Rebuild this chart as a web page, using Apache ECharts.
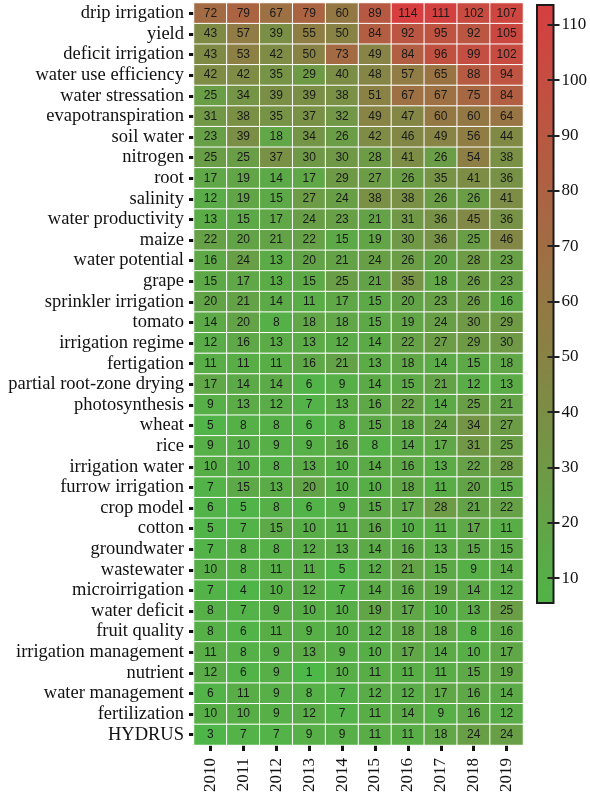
<!DOCTYPE html>
<html>
<head>
<meta charset="utf-8">
<script src="https://cdn.jsdelivr.net/npm/echarts@6/dist/echarts.min.js"></script>
<style>
  html, body { margin: 0; padding: 0; background: #ffffff; }
  #chart { width: 590px; height: 801px; }
</style>
</head>
<body>
<div id="chart"></div>
<script>
// Keyword occurrence counts per year (rows top to bottom)
const keywords = [
  'drip irrigation', 'yield', 'deficit irrigation', 'water use efficiency',
  'water stressation', 'evapotranspiration', 'soil water', 'nitrogen', 'root',
  'salinity', 'water productivity', 'maize', 'water potential', 'grape',
  'sprinkler irrigation', 'tomato', 'irrigation regime', 'fertigation',
  'partial root-zone drying', 'photosynthesis', 'wheat', 'rice',
  'irrigation water', 'furrow irrigation', 'crop model', 'cotton',
  'groundwater', 'wastewater', 'microirrigation', 'water deficit',
  'fruit quality', 'irrigation management', 'nutrient', 'water management',
  'fertilization', 'HYDRUS'
];

const years = ['2010', '2011', '2012', '2013', '2014', '2015', '2016', '2017', '2018', '2019'];

const y2010 = [72, 43, 43, 42, 25, 31, 23, 25, 17, 12, 13, 22, 16, 15, 20, 14, 12, 11, 17, 9, 5, 9, 10, 7, 6, 5, 7, 10, 7, 8, 8, 11, 12, 6, 10, 3];
const y2011 = [79, 57, 53, 42, 34, 38, 39, 25, 19, 19, 15, 20, 24, 17, 21, 20, 16, 11, 14, 13, 8, 10, 10, 15, 5, 7, 8, 8, 4, 7, 6, 8, 6, 11, 10, 7];
const y2012 = [67, 39, 42, 35, 39, 35, 18, 37, 14, 15, 17, 21, 13, 13, 14, 8, 13, 11, 14, 12, 8, 9, 8, 13, 8, 15, 8, 11, 10, 9, 11, 9, 9, 9, 9, 7];
const y2013 = [79, 55, 50, 29, 39, 37, 34, 30, 17, 27, 24, 22, 20, 15, 11, 18, 13, 16, 6, 7, 6, 9, 13, 20, 6, 10, 12, 11, 12, 10, 9, 13, 1, 8, 12, 9];
const y2014 = [60, 50, 73, 40, 38, 32, 26, 30, 29, 24, 23, 15, 21, 25, 17, 18, 12, 21, 9, 13, 8, 16, 10, 10, 9, 11, 13, 5, 7, 10, 10, 9, 10, 7, 7, 9];
const y2015 = [89, 84, 49, 48, 51, 49, 42, 28, 27, 38, 21, 19, 24, 21, 15, 15, 14, 13, 14, 16, 15, 8, 14, 10, 15, 16, 14, 12, 14, 19, 12, 10, 11, 12, 11, 11];
const y2016 = [114, 92, 84, 57, 67, 47, 46, 41, 26, 38, 31, 30, 26, 35, 20, 19, 22, 18, 15, 22, 18, 14, 16, 18, 17, 10, 16, 21, 16, 17, 18, 17, 11, 12, 14, 11];
const y2017 = [111, 95, 96, 65, 67, 60, 49, 26, 35, 26, 36, 36, 20, 18, 23, 24, 27, 14, 21, 14, 24, 17, 13, 11, 28, 11, 13, 15, 19, 10, 18, 14, 11, 17, 9, 18];
const y2018 = [102, 92, 99, 88, 75, 60, 56, 54, 41, 26, 45, 25, 28, 26, 26, 30, 29, 15, 12, 25, 34, 31, 22, 20, 21, 17, 15, 9, 14, 13, 8, 10, 15, 16, 16, 24];
const y2019 = [107, 105, 102, 94, 84, 64, 44, 38, 36, 41, 36, 46, 23, 23, 16, 29, 30, 18, 13, 21, 27, 25, 28, 15, 22, 11, 15, 14, 12, 25, 16, 17, 19, 14, 12, 24];

const yearColumns = [y2010, y2011, y2012, y2013, y2014, y2015, y2016, y2017, y2018, y2019];

// Colour scale range and the tick labels shown beside the colour bar
const scaleMin = 1;
const scaleMax = 114;
const barMin = 5.5;
const barMax = 113.6;
const barTicks = [10, 20, 30, 40, 50, 60, 70, 80, 90, 100, 110];

const lowColor = [76, 184, 72];
const highColor = [214, 62, 64];

function mix(v) {
  const t = Math.max(0, Math.min(1, (v - scaleMin) / (scaleMax - scaleMin)));
  const c = lowColor.map((lo, i) => Math.round(lo + (highColor[i] - lo) * t));
  return 'rgb(' + c.join(',') + ')';
}

const cells = [];
yearColumns.forEach((col, xi) => {
  col.forEach((v, yi) => cells.push([xi, yi, v]));
});

const serif = '"Liberation Serif", "Times New Roman", serif';
const sans = '"Liberation Sans", Arial, sans-serif';

const chart = echarts.init(document.getElementById('chart'), null, { renderer: 'canvas' });

chart.setOption({
  backgroundColor: '#ffffff',
  animation: false,
  grid: [
    { left: 194, top: 3, width: 329, height: 742, containLabel: false },
    {
      left: 537, top: 5, width: 17, height: 598, show: true,
      backgroundColor: {
        type: 'linear', x: 0, y: 0, x2: 0, y2: 1,
        colorStops: [
          { offset: 0, color: mix(barMax) },
          { offset: 1, color: mix(barMin) }
        ]
      },
      borderColor: '#1a1a1a', borderWidth: 2
    }
  ],
  xAxis: [
    {
      type: 'category', gridIndex: 0, data: years, position: 'bottom',
      axisLine: { show: false },
      axisTick: { show: true, alignWithLabel: true, length: 6, lineStyle: { color: '#111', width: 3 } },
      axisLabel: { interval: 0, rotate: 90, margin: 13, fontFamily: serif, fontSize: 17, color: '#111' },
      splitLine: { show: false }
    },
    {
      type: 'category', gridIndex: 1, data: [''],
      axisLine: { show: false }, axisTick: { show: false }, axisLabel: { show: false }
    }
  ],
  yAxis: [
    {
      type: 'category', gridIndex: 0, data: keywords, inverse: true,
      axisLine: { show: false },
      axisTick: { show: true, interval: 0, alignWithLabel: true, length: 5, lineStyle: { color: '#111', width: 3 } },
      axisLabel: { interval: 0, margin: 10, fontFamily: serif, fontSize: 18.5, color: '#111' },
      splitLine: { show: false }
    },
    {
      type: 'value', gridIndex: 1, position: 'right', min: barMin, max: barMax,
      axisLine: { show: false },
      axisTick: { show: true, inside: false, length: 6, customValues: barTicks, lineStyle: { color: '#222', width: 2 } },
      axisLabel: { margin: 8, fontFamily: serif, fontSize: 17, color: '#111', customValues: barTicks },
      splitLine: { show: false }
    },
    {
      type: 'value', gridIndex: 1, position: 'right', min: barMin, max: barMax,
      axisLine: { show: false },
      axisTick: { show: true, inside: true, length: 6, customValues: barTicks, lineStyle: { color: '#222', width: 2 } },
      axisLabel: { show: false },
      splitLine: { show: false }
    }
  ],
  visualMap: {
    type: 'continuous', show: false, seriesIndex: 0, dimension: 2,
    min: scaleMin, max: scaleMax,
    inRange: { color: [mix(scaleMin), mix(scaleMax)] }
  },
  series: [
    {
      type: 'heatmap', xAxisIndex: 0, yAxisIndex: 0, data: cells,
      label: { show: true, fontFamily: sans, fontSize: 12, color: '#1a1a1a' },
      itemStyle: { borderColor: '#ffffff', borderWidth: 1 },
      emphasis: { disabled: true }
    }
  ]
});
</script>
</body>
</html>
